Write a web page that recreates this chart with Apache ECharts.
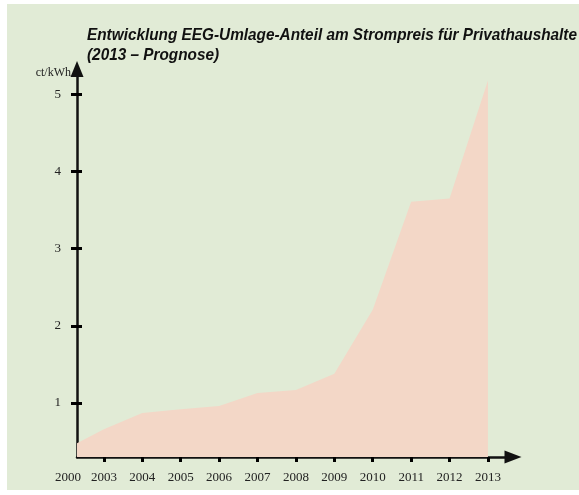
<!DOCTYPE html>
<html>
<head>
<meta charset="utf-8">
<script src="https://cdn.jsdelivr.net/npm/echarts@6/dist/echarts.min.js"></script>
<style>
html,body{margin:0;padding:0;background:#fff;}
#c{width:579px;height:495px;}
</style>
</head>
<body>
<div id="c"></div>
<script>
// Data
var years = ['2000','2003','2004','2005','2006','2007','2008','2009','2010','2011','2012','2013'];
var values = [0.40, 0.66, 0.87, 0.92, 0.96, 1.13, 1.17, 1.38, 2.21, 3.61, 3.65, 5.18];
var yTickValues = [1, 2, 3, 4, 5];
var titleLines = ['Entwicklung EEG-Umlage-Anteil am Strompreis für Privathaushalte', '(2013 – Prognose)'];
var unitText = 'ct/kWh';

var seriesData = values.map(function (v, i) { return [i, v]; });
var xTickPositions = years.map(function (y, i) { return i; }).slice(1);
var xLabelPositions = [0.3].concat(xTickPositions);

// condensed title: measure the natural width and squeeze it horizontally
var titleFont = 'italic bold 17px "Liberation Sans", Arial, sans-serif';
var titleLeft = 87, titleRight = 577;
var mctx = document.createElement('canvas').getContext('2d');
mctx.font = titleFont;
var natural = mctx.measureText(titleLines[0]).width;
var squeeze = (titleRight - titleLeft) / natural;

var chart = echarts.init(document.getElementById('c'), null, {renderer: 'canvas'});
chart.setOption({
  animation: false,
  backgroundColor: '#ffffff',
  graphic: [{
    type: 'rect', z: -10, silent: true,
    shape: {x: 7, y: 4, width: 572, height: 486},
    style: {fill: '#e1ebd6'}
  }, {
    type: 'text', z: 10, silent: true,
    x: titleLeft, y: 25, scaleX: squeeze, scaleY: 1,
    style: {
      text: titleLines.join('\n'),
      font: titleFont, lineHeight: 20, fill: '#111',
      textAlign: 'left', textVerticalAlign: 'top'
    }
  }],
  grid: {left: 77, right: 68, top: 69, bottom: 38},
  xAxis: {
    type: 'value', min: 0.3, max: 11.6,
    axisLine: {onZero: false, lineStyle: {color: '#111', width: 2.5},
      symbol: ['none', 'triangle'], symbolSize: [13, 17], symbolOffset: [0, 2]},
    axisTick: {customValues: xTickPositions, length: 5, lineStyle: {color: '#000', width: 3}},
    axisLabel: {
      customValues: xLabelPositions, margin: 14,
      fontFamily: 'Liberation Serif, serif', fontSize: 13, color: '#222',
      formatter: function (v) {
        var idx = Math.round(v);
        if (idx === 0) return '{o|' + years[0] + '}';
        return years[idx];
      },
      rich: {o: {fontFamily: 'Liberation Serif, serif', fontSize: 13, color: '#222', padding: [0, 18, 0, 0]}}
    },
    splitLine: {show: false}
  },
  yAxis: [{
    type: 'value', min: 0.3, max: 5.33,
    name: unitText, nameLocation: 'end', nameGap: -4,
    nameTextStyle: {fontFamily: 'Liberation Serif, serif', fontSize: 12, color: '#222',
      align: 'right', verticalAlign: 'middle', padding: [0, 6, 0, 0]},
    axisLine: {lineStyle: {color: '#111', width: 2.5},
      symbol: ['none', 'triangle'], symbolSize: [13, 16], symbolOffset: [0, 0]},
    axisTick: {customValues: yTickValues, length: 6, lineStyle: {color: '#000', width: 3}},
    axisLabel: {customValues: yTickValues, margin: 16,
      fontFamily: 'Liberation Serif, serif', fontSize: 13, color: '#222'},
    splitLine: {show: false}
  }, {
    type: 'value', min: 0.3, max: 5.33, position: 'left', offset: 0,
    axisLine: {show: false},
    axisTick: {customValues: yTickValues, inside: true, length: 5, lineStyle: {color: '#000', width: 3}},
    axisLabel: {show: false},
    splitLine: {show: false}
  }],
  series: [{
    type: 'line',
    data: seriesData,
    showSymbol: false,
    lineStyle: {width: 0},
    areaStyle: {color: '#f3d7c7', opacity: 1, origin: 'start'},
    z: 1
  }]
});
</script>
</body>
</html>
